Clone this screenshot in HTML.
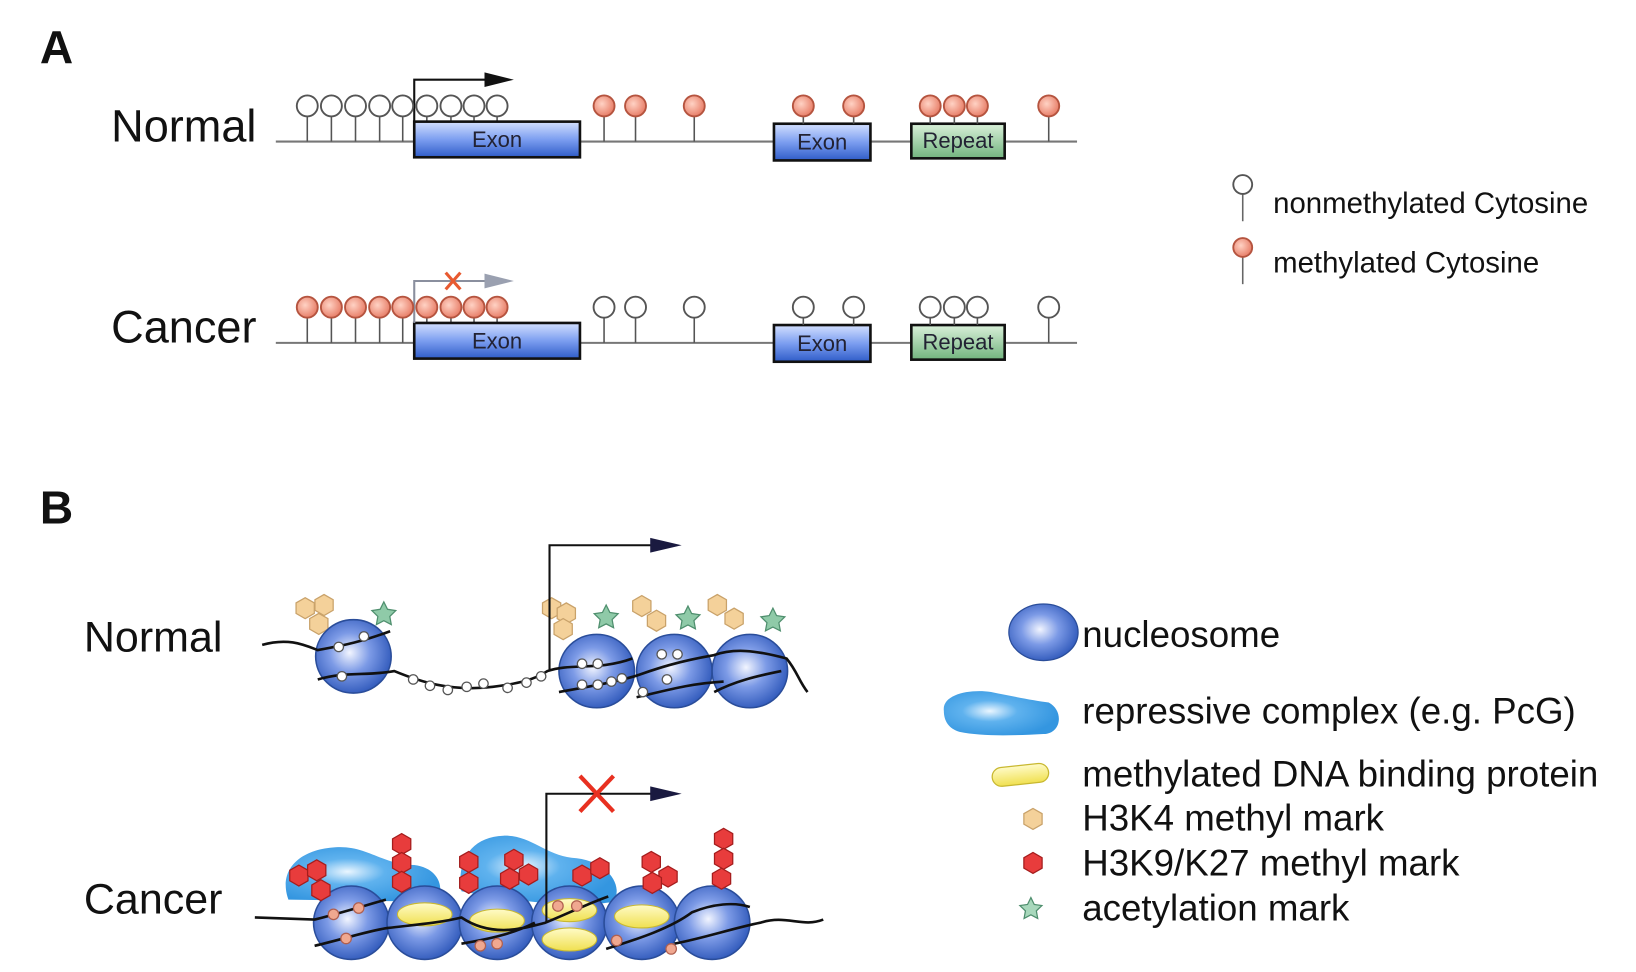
<!DOCTYPE html>
<html><head><meta charset="utf-8"><style>
html,body{margin:0;padding:0;background:#fff;}
svg{display:block;}
text{font-family:"Liberation Sans",sans-serif;}
</style></head><body>
<svg id="fig" width="1636" height="972" viewBox="0 0 1560 927" preserveAspectRatio="none" xmlns="http://www.w3.org/2000/svg">
<defs>
<linearGradient id="exonG" x1="0" y1="0" x2="0" y2="1"><stop offset="0" stop-color="#d4e0ff"/><stop offset="0.5" stop-color="#7c9ef0"/><stop offset="1" stop-color="#2f5cc8"/></linearGradient>
<linearGradient id="repG" x1="0" y1="0" x2="0" y2="1"><stop offset="0" stop-color="#d9f0d9"/><stop offset="1" stop-color="#72b47e"/></linearGradient>
<radialGradient id="nucG" cx="0.45" cy="0.45" r="0.6"><stop offset="0" stop-color="#f2f5ff"/><stop offset="0.45" stop-color="#7c9ae6"/><stop offset="1" stop-color="#2b55b8"/></radialGradient>
<radialGradient id="blobG" cx="0.4" cy="0.45" r="0.6"><stop offset="0" stop-color="#eaf6ff"/><stop offset="0.4" stop-color="#5fb2ee"/><stop offset="1" stop-color="#3496e0"/></radialGradient>
<radialGradient id="redC" cx="0.4" cy="0.4" r="0.6"><stop offset="0" stop-color="#ffd2c4"/><stop offset="1" stop-color="#e8806a"/></radialGradient>
<linearGradient id="yelG" x1="0" y1="0" x2="0" y2="1"><stop offset="0" stop-color="#fffbc8"/><stop offset="1" stop-color="#f0e050"/></linearGradient>
</defs>
<g id="root"></g>
</svg>
<script>
// ---- data ----
const unmethNormal = [293,316,339,362,384,407,430,452,474];
const sitesOther = [576,606,662,766,814,887,910,932,1000];
const stemTopOther = [0,0,0,118,118,118,118,118,0];
const exons = [[395,553,'Exon','exon-1'],[738,830,'Exon','exon-2']];
const repeatBox = [869,958];
const nucNormal = [337,569,643,715];
const nucCancer = [335,405,474,543,612,679];
const tanHex = [[291,580],[309,577],[304,595],[526,580],[540,585],[537,600],[612,578],[626,592],[684,577],[700,590]];
const stars = [[366,586],[578,589],[656,590],[737,592]];
const redHex = [[285,835],[302,830],[306,849],[383,805],[383,823],[383,841],[447,822],[447,842],[490,820],[504,834],[486,838],[555,835],[572,828],[621,822],[637,836],[622,842],[690,800],[690,819],[688,838]];

const NS='http://www.w3.org/2000/svg';
const root=document.getElementById('root');
function mk(tag,attrs,parent){const e=document.createElementNS(NS,tag);for(const k in attrs)e.setAttribute(k,attrs[k]);(parent||root).appendChild(e);return e;}
function hexPts(cx,cy,r){let p=[];for(let i=0;i<6;i++){const a=Math.PI/3*i+Math.PI/6;p.push((cx+r*Math.cos(a)).toFixed(1)+','+(cy+r*Math.sin(a)).toFixed(1));}return p.join(' ');}
function starPts(cx,cy,r){let p=[];for(let i=0;i<10;i++){const rr=i%2?r*0.5:r;const a=-Math.PI/2+Math.PI/5*i;p.push((cx+rr*Math.cos(a)).toFixed(1)+','+(cy+rr*Math.sin(a)).toFixed(1));}return p.join(' ');}
function txt(x,y,s,size,w,name,anchor){const t=mk('text',{x:x,y:y,'font-size':size,'font-weight':w||'normal',fill:'#111','text-anchor':anchor||'start','dominant-baseline':'central'});t.textContent=s;


return t;}

// ---- Panel A ----
txt(38,45,'A',44,'bold','panel-a-label');
function row(dy,cancer){
  const g=mk('g',{});
  
  
  txt(106,120+dy,cancer?'Cancer':'Normal',43,'normal',cancer?'cancer-label-a':'normal-label-a');
  mk('line',{x1:263,y1:135+dy,x2:1027,y2:135+dy,stroke:'#777','stroke-width':2},g);
  const cy=101+dy;
  const cFill1=cancer?'url(#redC)':'#fff', cStroke1=cancer?'#b5543f':'#555';
  const cFill2=cancer?'#fff':'url(#redC)', cStroke2=cancer?'#555':'#b5543f';
  unmethNormal.forEach(x=>{
    mk('line',{x1:x,y1:cy+10,x2:x,y2:135+dy,stroke:'#555','stroke-width':1.5},g);
  });
  exons.forEach(e=>{
    const h=e[1]<600?[116,150]:[118,153];
    const r=mk('rect',{x:e[0],y:h[0]+dy,width:e[1]-e[0],height:h[1]-h[0],fill:'url(#exonG)',stroke:'#111','stroke-width':2.5},g);
    
    
    const t=mk('text',{x:(e[0]+e[1])/2,y:(h[0]+h[1])/2+dy,'font-size':21,fill:'#223','text-anchor':'middle','dominant-baseline':'central'},g);t.textContent=e[2];
  });
  const rp=mk('rect',{x:repeatBox[0],y:118+dy,width:repeatBox[1]-repeatBox[0],height:33,fill:'url(#repG)',stroke:'#111','stroke-width':2.5},g);
  
  
  const rt=mk('text',{x:(repeatBox[0]+repeatBox[1])/2,y:134+dy,'font-size':21,fill:'#223','text-anchor':'middle','dominant-baseline':'central'},g);rt.textContent='Repeat';
  const ac=cancer?'#8a8f9e':'#111';
  mk('polyline',{points:`395,${116+dy} 395,${76+dy} 468,${76+dy}`,fill:'none',stroke:ac,'stroke-width':2},g);
  mk('polygon',{points:`462,${69+dy} 490,${76+dy} 462,${83+dy}`,fill:cancer?'#9aa0b0':'#111'},g);
  if(cancer){
    mk('line',{x1:425,y1:260,x2:439,y2:276,stroke:'#e85a30','stroke-width':3},g);
    mk('line',{x1:439,y1:260,x2:425,y2:276,stroke:'#e85a30','stroke-width':3},g);
  }
  unmethNormal.forEach(x=>{
    const c=mk('circle',{cx:x,cy:cy,r:10,fill:cFill1,stroke:cStroke1,'stroke-width':1.8},g);
    
    
  });
  sitesOther.forEach((x,i)=>{
    const bot=stemTopOther[i]?stemTopOther[i]+dy:135+dy;
    mk('line',{x1:x,y1:cy+10,x2:x,y2:bot,stroke:'#555','stroke-width':1.5},g);
    const c=mk('circle',{cx:x,cy:cy,r:10,fill:cFill2,stroke:cStroke2,'stroke-width':1.8},g);
    
    
  });
}
row(0,false);row(192,true);

// legend A
function lolly(x,y,fill,stroke,name){
  mk('line',{x1:x,y1:y+9,x2:x,y2:y+35,stroke:'#666','stroke-width':1.5});
  const c=mk('circle',{cx:x,cy:y,r:9,fill:fill,stroke:stroke,'stroke-width':1.8});
  
  
}
lolly(1185,176,'#fff','#555','legend-unmethylated-icon');
txt(1214,194,'nonmethylated Cytosine',28,'normal','legend-unmethylated-text');
lolly(1185,236,'url(#redC)','#b5543f','legend-methylated-icon');
txt(1214,251,'methylated Cytosine',28,'normal','legend-methylated-text');

// ---- Panel B ----
txt(38,484,'B',44,'bold','panel-b-label');
txt(80,608,'Normal',41,'normal','normal-label-b');
txt(80,858,'Cancer',41,'normal','cancer-label-b');

function nuc(cx,cy,name){
  const e=mk('ellipse',{cx:cx,cy:cy,rx:36,ry:35,fill:'url(#nucG)',stroke:'#2a4d9a','stroke-width':1.5});
  
  
}
function bead(x,y,f,s,r){mk('circle',{cx:x,cy:y,r:r||4.5,fill:f,stroke:s,'stroke-width':1.2});}
function hex(x,y,f,s,name){
  const h=mk('polygon',{points:hexPts(x,y,10),fill:f,stroke:s,'stroke-width':1.2});
  
  
}

tanHex.forEach(p=>hex(p[0],p[1],'#f4d19a','#c9a26a','h3k4-mark'));
stars.forEach(p=>{
  const s=mk('polygon',{points:starPts(p[0],p[1],12),fill:'#8fcaa8',stroke:'#4f8f6e','stroke-width':1.2});
  
  
});
nucNormal.forEach((x,i)=>nuc(x,i?640:626,'normal-nucleosome'));
mk('path',{d:'M250,615 C275,608 290,615 303,620 C330,615 345,612 372,602 M303,648 C330,640 350,645 376,640 C400,650 430,660 470,655 C495,652 510,648 522,640 C545,632 570,640 603,628 M533,660 C560,655 580,652 605,645 C620,640 640,632 680,625 C700,618 720,620 750,628 C760,640 762,650 770,660 M607,665 C630,660 655,652 690,650 M681,660 C700,650 720,645 745,640',fill:'none',stroke:'#111','stroke-width':2.5});
[[394,648],[410,654],[427,658],[445,655],[461,652],[484,656],[502,651],[516,645],[323,617],[347,607],[326,645],[555,633],[570,633],[555,653],[570,653],[583,650],[593,647],[631,624],[646,624],[636,648],[613,660]].forEach(p=>bead(p[0],p[1],'#fff','#555'));
mk('polyline',{points:'524,640 524,520 630,520',fill:'none',stroke:'#111','stroke-width':2});
mk('polygon',{points:'620,513 650,520 620,527',fill:'#1a1a40'});

[ 'M275,858 C265,830 285,810 320,808 C350,806 365,825 395,825 C420,828 425,850 415,860 Z',
  'M440,850 C435,820 450,798 480,797 C505,796 520,815 545,818 C580,820 595,845 585,860 C560,865 500,862 440,850 Z'
].forEach(d=>{const b=mk('path',{d:d,fill:'url(#blobG)'});
  
  });
nucCancer.forEach(x=>nuc(x,880,'cancer-nucleosome'));
[[405,872],[474,878],[543,868],[543,896],[612,874]].forEach(p=>{
  const y=mk('ellipse',{cx:p[0],cy:p[1],rx:26,ry:11,fill:'url(#yelG)',stroke:'#c8b830','stroke-width':1});
  
  });
mk('path',{d:'M243,875 L300,877 C320,872 340,866 368,858 M300,902 C330,895 350,888 370,885 C395,882 420,880 440,875 C470,895 500,885 520,880 C540,872 560,862 580,855 M440,900 C470,895 490,890 510,880 M578,905 C610,895 640,885 660,870 C680,862 700,860 715,865 M643,900 C670,895 700,885 725,880 C750,872 765,885 785,877',fill:'none',stroke:'#111','stroke-width':2.5});
[[318,872],[342,866],[330,895],[458,902],[474,900],[532,864],[550,864],[640,905],[588,897]].forEach(p=>bead(p[0],p[1],'#f0a890','#b06050',5));
redHex.forEach(p=>hex(p[0],p[1],'#e83c3c','#a51d1d','h3k9-k27-mark'));
mk('polyline',{points:'521,880 521,757 630,757',fill:'none',stroke:'#111','stroke-width':2});
mk('polygon',{points:'620,750 650,757 620,764',fill:'#1a1a40'});
mk('line',{x1:553,y1:740,x2:585,y2:774,stroke:'#e83020','stroke-width':4});
mk('line',{x1:585,y1:740,x2:553,y2:774,stroke:'#e83020','stroke-width':4});

// legend B
const ln=mk('ellipse',{cx:995,cy:603,rx:33,ry:27,fill:'url(#nucG)',stroke:'#2a4d9a','stroke-width':1.2});


txt(1032,605,'nucleosome',35,'normal','legend-nucleosome-text');
const lb=mk('path',{d:'M900,678 C898,662 925,657 945,660 C965,664 985,668 1000,670 C1015,678 1012,700 995,700 C960,702 935,702 915,698 C905,695 900,688 900,678 Z',fill:'url(#blobG)'});


txt(1032,678,'repressive complex (e.g. PcG)',35,'normal','legend-repressive-complex-text');
const ly=mk('rect',{x:946,y:730,width:54,height:18,rx:9,fill:'url(#yelG)',stroke:'#c8b830','stroke-width':1.2,transform:'rotate(-6 973 739)'});


txt(1032,738,'methylated DNA binding protein',35,'normal','legend-binding-protein-text');
hex(985,781,'#f4d19a','#c9a26a','legend-h3k4-icon');
txt(1032,780,'H3K4 methyl mark',35,'normal','legend-h3k4-text');
hex(985,823,'#e83c3c','#a51d1d','legend-h3k9-icon');
txt(1032,823,'H3K9/K27 methyl mark',35,'normal','legend-h3k9-text');
const ls=mk('polygon',{points:starPts(983,867,11),fill:'#a8d8bc',stroke:'#4f8f6e','stroke-width':1.2});


txt(1032,866,'acetylation mark',35,'normal','legend-acetylation-text');
</script>
</body></html>
